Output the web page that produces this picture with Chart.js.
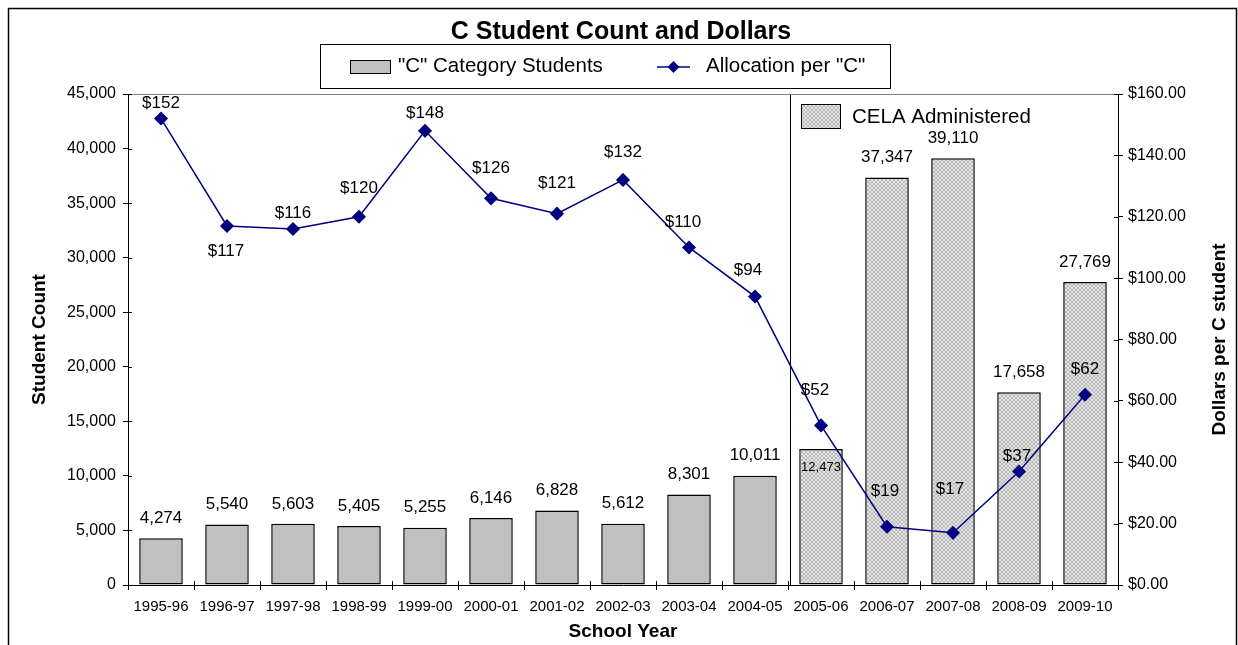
<!DOCTYPE html>
<html><head><meta charset="utf-8">
<script src="https://cdn.jsdelivr.net/npm/chart.js@4/dist/chart.umd.min.js"></script>
<style>html,body{margin:0;padding:0;background:#fff}</style>
</head><body>
<canvas id="c" width="1238" height="645"></canvas>
<script>
// ---- data ----
const schoolYears = ['1995-96','1996-97','1997-98','1998-99','1999-00','2000-01','2001-02','2002-03','2003-04','2004-05','2005-06','2006-07','2007-08','2008-09','2009-10'];
const studentCounts = [4274, 5540, 5603, 5405, 5255, 6146, 6828, 5612, 8301, 10011, 12473, 37347, 39110, 17658, 27769];
const allocationPerC = [152, 117, 116, 120, 148, 126, 121, 132, 110, 94, 52, 19, 17, 37, 62];
const celaYears = ['2005-06','2006-07','2007-08','2008-09','2009-10'];
const countTicksMax = 45000, countTickStep = 5000;
const dollarTicksMax = 160, dollarTickStep = 20;
// label nudges (layout only)
const lineLabelDy = [-15, 25, -16, -28, -18, -30, -30, -28, -25, -26, -35, -35, -44, -15, -25];
const lineLabelDx = [0, -1, 0, 0, 0, 0, 0, 0, -6, -7, -6, -2, -3, -2, 0];

const FONT = "'Liberation Sans', Arial, sans-serif";

function makeHatch(){
  const p = document.createElement('canvas'); p.width = 4; p.height = 4;
  const g = p.getContext('2d');
  g.fillStyle = '#bababa'; g.fillRect(0,0,4,4);
  g.fillStyle = '#e4e4e4';
  [[0,0],[1,1],[2,2],[3,3],[3,0],[2,1],[1,2],[0,3]].forEach(([a,b])=>g.fillRect(a,b,1,1));
  return document.getElementById('c').getContext('2d').createPattern(p,'repeat');
}
const hatch = makeHatch();
const barColors = schoolYears.map(y => celaYears.includes(y) ? hatch : '#c0c0c0');

const fmtCount = v => Number(v).toLocaleString('en-US');

const deco = {
  id: 'deco',
  beforeDraw(chart){
    const c = chart.ctx; c.save(); c.fillStyle = '#fff'; c.fillRect(0,0,chart.width,chart.height); c.restore();
  },
  afterDatasetsDraw(chart){
    const c = chart.ctx, a = chart.chartArea;
    const n = schoolYears.length, cw = (a.right - a.left)/n;
    c.save();
    const si = schoolYears.indexOf(celaYears[0]);
    const sx = Math.round(a.left + si*cw) + 2.5;
    c.strokeStyle = '#000'; c.lineWidth = 1;
    c.beginPath(); c.moveTo(sx, a.top); c.lineTo(sx, a.bottom); c.stroke();
    c.strokeStyle = '#808080';
    c.beginPath(); c.moveTo(a.left, a.top+0.5); c.lineTo(a.right, a.top+0.5); c.stroke();
    c.strokeStyle = '#000';
    const yS = chart.scales.y, y1S = chart.scales.y1;
    yS.ticks.forEach(t => { const y = Math.round(yS.getPixelForValue(t.value))+0.5; c.beginPath(); c.moveTo(a.left, y); c.lineTo(a.left+4, y); c.stroke(); });
    y1S.ticks.forEach(t => { const y = Math.round(y1S.getPixelForValue(t.value))+0.5; c.beginPath(); c.moveTo(a.right-4, y); c.lineTo(a.right, y); c.stroke(); });
    for (let i=0;i<=n;i++){ const x = Math.round(a.left + i*cw)+0.5; c.beginPath(); c.moveTo(x, a.bottom-4); c.lineTo(x, a.bottom); c.stroke(); }
    const barMeta = chart.getDatasetMeta(0);
    c.fillStyle = '#000'; c.textAlign = 'center'; c.textBaseline = 'middle';
    barMeta.data.forEach((el, i) => {
      const txt = fmtCount(studentCounts[i]);
      if (i === si) { c.font = '13px ' + FONT; c.fillText(txt, el.x, el.y + 19); }
      else { c.font = '17px ' + FONT; c.fillText(txt, el.x, el.y - 20); }
    });
    const lineMeta = chart.getDatasetMeta(1);
    c.font = '17px ' + FONT;
    lineMeta.data.forEach((el, i) => {
      c.fillText('$' + allocationPerC[i], el.x + lineLabelDx[i], el.y + lineLabelDy[i]);
    });
    c.restore();
  },
  afterDraw(chart){
    const c = chart.ctx, a = chart.chartArea;
    c.save();
    c.strokeStyle = '#000'; c.lineWidth = 1.5;
    c.strokeRect(8.5, 8.5, 1228, 700);
    c.fillStyle = '#000'; c.textAlign = 'center'; c.textBaseline = 'middle';
    c.font = 'bold 25px ' + FONT;
    c.fillText('C Student Count and Dollars', 621, 32);
    c.lineWidth = 1; c.strokeStyle = '#000';
    c.strokeRect(320.5, 44.5, 570, 44);
    c.fillStyle = '#c0c0c0'; c.fillRect(350, 60, 40, 13);
    c.strokeRect(350.5, 60.5, 40, 13);
    c.fillStyle = '#000'; c.textAlign = 'left'; c.font = '20.5px ' + FONT;
    c.fillText('"C" Category Students', 398, 66);
    c.strokeStyle = '#000080'; c.lineWidth = 1.5;
    c.beginPath(); c.moveTo(657, 67); c.lineTo(690, 67); c.stroke();
    c.fillStyle = '#000080';
    c.beginPath(); c.moveTo(673.5, 61); c.lineTo(679.5, 67); c.lineTo(673.5, 73); c.lineTo(667.5, 67); c.closePath(); c.fill();
    c.fillStyle = '#000';
    c.fillText('Allocation per "C"', 706, 66);
    c.fillStyle = hatch; c.fillRect(801, 104, 39, 24);
    c.strokeStyle = '#000'; c.lineWidth = 1; c.strokeRect(801.5, 104.5, 39, 24);
    c.fillStyle = '#000'; c.font = '20.5px ' + FONT;
    c.fillText('CELA Administered', 852, 117);
    c.font = 'bold 19px ' + FONT; c.textAlign = 'center';
    c.save(); c.translate(40, (a.top+a.bottom)/2); c.rotate(-Math.PI/2); c.fillText('Student Count', 0, 0); c.restore();
    c.save(); c.translate(1220, (a.top+a.bottom)/2); c.rotate(-Math.PI/2); c.fillText('Dollars per C student', 0, 0); c.restore();
    c.fillText('School Year', (a.left+a.right)/2, 632);
    c.restore();
  }
};

new Chart(document.getElementById('c'), {
  type: 'bar',
  data: {
    labels: schoolYears,
    datasets: [
      { type: 'bar', label: '"C" Category Students', data: studentCounts, yAxisID: 'y',
        backgroundColor: barColors, borderColor: '#000', borderWidth: 1.5, borderSkipped: false,
        barPercentage: 0.66, categoryPercentage: 1.0, order: 2 },
      { type: 'line', label: 'Allocation per "C"', data: allocationPerC, yAxisID: 'y1',
        borderColor: '#000080', borderWidth: 1.5, pointStyle: 'rectRot', pointRadius: 6,
        pointBackgroundColor: '#000080', pointBorderColor: '#000080', tension: 0, order: 1 }
    ]
  },
  options: {
    responsive: false, animation: false, devicePixelRatio: 1,
    layout: { padding: { left: 10, right: 10, top: 94, bottom: 0 } },
    plugins: { legend: { display: false }, title: { display: false }, tooltip: { enabled: false } },
    scales: {
      x: {
        grid: { display: true, offset: true, drawOnChartArea: false, drawTicks: true, tickLength: 5, color: '#000' },
        border: { display: true, color: '#000', width: 1 },
        ticks: { color: '#000', font: { family: FONT, size: 15 }, maxRotation: 0, autoSkip: false, padding: 8 },
        afterFit(s){ s.height = 60; }
      },
      y: {
        position: 'left', min: 0, max: countTicksMax,
        grid: { drawOnChartArea: false, drawTicks: true, tickLength: 5, color: '#000' },
        border: { display: true, color: '#000', width: 1 },
        ticks: { stepSize: countTickStep, color: '#000', font: { family: FONT, size: 16 }, padding: 7, callback: v => fmtCount(v) },
        afterFit(s){ s.width = 118; }
      },
      y1: {
        position: 'right', min: 0, max: dollarTicksMax,
        grid: { drawOnChartArea: false, drawTicks: true, tickLength: 5, color: '#000' },
        border: { display: true, color: '#000', width: 1 },
        ticks: { stepSize: dollarTickStep, color: '#000', font: { family: FONT, size: 16 }, padding: 5, callback: v => '$' + Number(v).toFixed(2) },
        afterFit(s){ s.width = 110; }
      }
    }
  },
  plugins: [deco]
});
</script>
</body></html>
